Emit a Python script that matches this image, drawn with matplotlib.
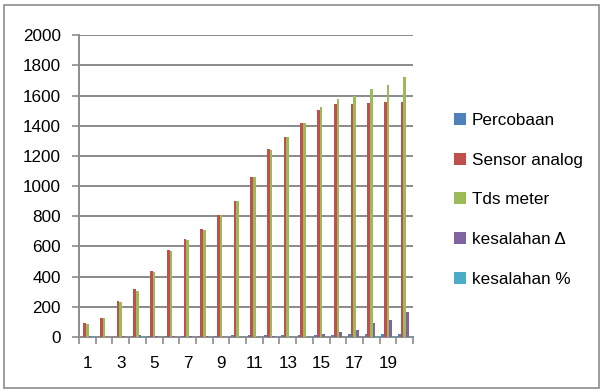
import matplotlib

matplotlib.use("Agg")
import matplotlib.pyplot as plt
from matplotlib.patches import Rectangle
import numpy as np

plt.rcParams["font.family"] = ["Liberation Sans", "DejaVu Sans"]

# measurement table: trial number, analog sensor vs. TDS meter reading (ppm)
percobaan = list(range(1, 21))
sensor_analog = [91, 126, 236, 318, 437, 576, 649, 717, 808, 900,
                 1060, 1245, 1325, 1415, 1503, 1545, 1547, 1550, 1554, 1556]
tds_meter = [84, 126, 230, 307, 428, 570, 642, 711, 808, 900,
             1060, 1240, 1325, 1415, 1523, 1580, 1596, 1642, 1669, 1722]
kesalahan_delta = [7, 0, 6, 11, 9, 6, 7, 6, 0, 0,
                   0, 5, 0, 0, 20, 35, 49, 92, 115, 166]
kesalahan_persen = [8.3, 0, 2.6, 3.6, 2.1, 1.1, 1.1, 0.8, 0, 0,
                    0, 0.4, 0, 0, 1.3, 2.2, 3.1, 5.6, 6.9, 9.6]

series = [
    ("Percobaan", percobaan, "#4F81BD"),
    ("Sensor analog", sensor_analog, "#C0504D"),
    ("Tds meter", tds_meter, "#9BBB59"),
    ("kesalahan \u0394", kesalahan_delta, "#8064A2"),
    ("kesalahan %", kesalahan_persen, "#4BACC6"),
]
xlabels = [str(p) if p % 2 else "" for p in percobaan]

GRID = "#8a8a8a"
AXIS = "#8c8c8c"

fig = plt.figure(figsize=(6.04, 3.92), dpi=100)
fig.patches.append(Rectangle((0.006, 0.01), 0.986, 0.977, transform=fig.transFigure,
                             fill=False, edgecolor="#8c8c8c", linewidth=1.2))
ax = fig.add_axes([0.1308, 0.1403, 0.553, 0.770])

x = np.arange(len(percobaan))
w = 0.16
handles = []
for i, (name, vals, color) in enumerate(series):
    h = ax.bar(x + (i - 2) * w, vals, width=w, color=color, label=name,
               linewidth=0, zorder=3)
    handles.append(h)

ax.set_xlim(-0.5, len(percobaan) - 0.5)
ax.set_ylim(0, 2000)
ax.set_yticks(range(0, 2001, 200))
ax.set_xticks(x)
ax.set_xticklabels(xlabels)
ax.set_xticks(np.arange(-0.5, len(percobaan)), minor=True)

ax.grid(axis="y", color=GRID, linewidth=1.4, zorder=0)
ax.set_axisbelow(True)
for s in ["top", "right"]:
    ax.spines[s].set_visible(False)
for s in ["left", "bottom"]:
    ax.spines[s].set_color(AXIS)
    ax.spines[s].set_linewidth(1.4)

ax.tick_params(axis="y", length=5, width=1.2, color=AXIS, pad=8,
               labelsize=12.3, labelcolor="black")
ax.tick_params(axis="x", which="major", length=0, pad=14,
               labelsize=12.3, labelcolor="black")
ax.tick_params(axis="x", which="minor", length=5, width=1.2, color=AXIS)

fig.legend(handles=handles, loc="center left", bbox_to_anchor=(0.727, 0.49),
           frameon=False, fontsize=12.3, handlelength=0.7, handleheight=0.7,
           handletextpad=0.3, labelspacing=1.45)

fig.savefig("out.png", dpi=100)
